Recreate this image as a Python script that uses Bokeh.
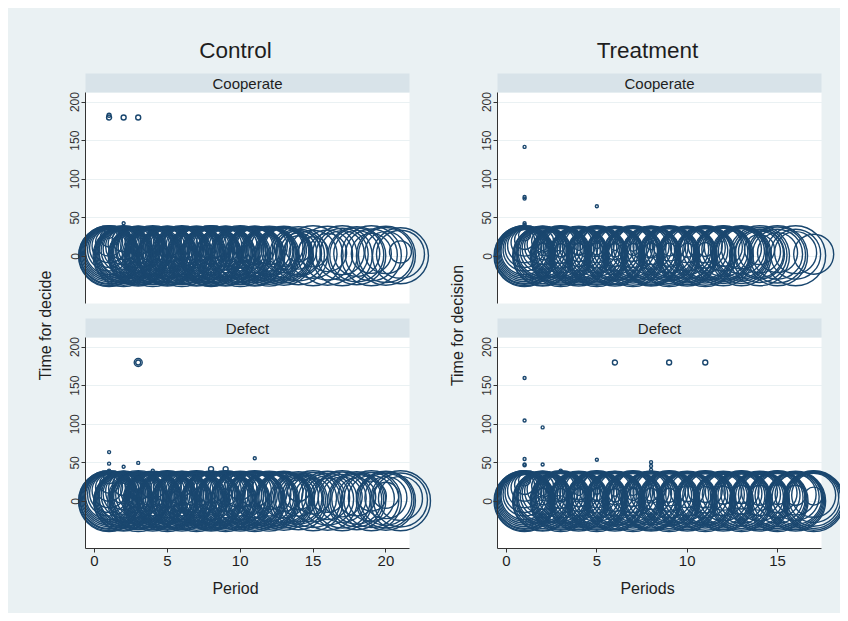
import math
from bokeh.plotting import figure
from bokeh.models import Range1d, LinearAxis, FixedTicker, BoxAnnotation, Grid, Label
from bokeh.layouts import row
from bokeh.embed import file_html
from bokeh.resources import INLINE

# ---------------- data (per period: decision times and marker sizes) -------------
Y_TICKS = [0, 50, 100, 150, 200]
CTRL_X_TICKS = [0, 5, 10, 15, 20]
TREAT_X_TICKS = [0, 5, 10, 15]

CTRL_COOP_TIME = [
    [0.5, 1, 1.5, 2, 3, 4, 5, 6, 7, 9, 11, 14, 18, 24, 30, 180, 183],
    [0.5, 1, 2, 2.5, 3, 4, 5, 6, 8, 10, 13, 16, 21, 43, 180],
    [0.5, 1, 1.5, 2, 3, 4, 5, 6, 8, 9, 11, 14, 19, 180],
    [0.5, 1, 2, 3, 4, 5, 6, 7, 9, 10, 12, 15, 20],
    [0.5, 1, 1.5, 2, 3, 4, 5, 6, 8, 9, 11, 14, 18],
    [0.5, 1, 2, 3, 4, 5, 6, 7, 9, 10, 12, 16],
    [0.5, 1, 2, 3, 4, 5, 6, 8, 9, 11, 13, 15],
    [0.5, 1, 1.5, 2, 3, 4, 5, 7, 8, 10, 13, 16],
    [0.5, 1, 2, 3, 4, 5, 6, 8, 10, 12, 15],
    [0.5, 1, 2, 3, 4, 5, 7, 9, 11, 14],
    [0.5, 1, 2, 3, 4, 5, 6, 8, 11, 13],
    [0.5, 1, 2, 3, 4, 6, 7, 9, 13],
    [1, 2, 3, 4, 5, 8, 10, 12],
    [1, 2, 4, 5, 7, 10],
    [1, 3, 6],
    [1, 2, 5],
    [1, 3, 5],
    [1, 2, 4],
    [1, 2, 4],
    [1, 2, 5],
    [1, 3, 6],
]
CTRL_COOP_SIZE = [
    [61, 60, 58, 57, 55, 53, 51, 49, 47, 43, 39, 34, 27, 18, 10, 5, 4],
    [61, 59, 57, 56, 54, 52, 50, 49, 45, 41, 36, 31, 23, 3, 5],
    [60, 59, 58, 56, 54, 52, 51, 49, 45, 43, 40, 35, 26, 5],
    [61, 58, 56, 55, 53, 51, 49, 47, 43, 41, 38, 33, 25],
    [60, 59, 58, 56, 55, 52, 51, 49, 45, 43, 40, 34, 28],
    [61, 58, 57, 54, 53, 51, 49, 47, 43, 41, 38, 31],
    [60, 59, 56, 54, 53, 51, 49, 46, 43, 39, 36, 33],
    [61, 60, 58, 56, 55, 53, 51, 47, 45, 41, 36, 30],
    [60, 59, 57, 54, 53, 51, 49, 45, 42, 38, 32],
    [61, 58, 56, 55, 52, 51, 47, 43, 40, 34],
    [60, 59, 56, 54, 53, 51, 49, 45, 40, 36],
    [60, 57, 55, 54, 52, 49, 47, 43, 36],
    [59, 56, 54, 52, 50, 45, 42, 38],
    [58, 52, 46, 44, 36, 26],
    [60, 48, 30],
    [59, 50, 38],
    [60, 52, 44],
    [58, 54, 46],
    [60, 52, 40],
    [59, 55, 42],
    [56, 48, 22],
]

CTRL_DEF_TIME = [
    [0.5, 1, 1.5, 2, 3, 4, 5, 6, 7, 9, 11, 14, 18, 23, 30, 40, 49, 64],
    [0.5, 1, 2, 2.5, 3, 4, 5, 6, 8, 10, 13, 17, 22, 30, 45],
    [0.5, 1, 1.5, 2, 3, 4, 5, 6, 8, 11, 14, 19, 25, 50, 180, 180],
    [0.5, 1, 2, 3, 4, 5, 6, 7, 9, 12, 15, 20, 40],
    [0.5, 1, 1.5, 2, 3, 4, 5, 6, 8, 11, 14, 18],
    [0.5, 1, 2, 3, 4, 5, 6, 7, 9, 12, 16, 21],
    [0.5, 1, 2, 3, 4, 5, 6, 8, 9, 11, 15],
    [0.5, 1, 1.5, 2, 3, 4, 5, 7, 10, 13, 17, 42],
    [0.5, 1, 2, 3, 4, 5, 6, 8, 12, 16, 42],
    [0.5, 1, 2, 3, 4, 5, 7, 9, 14, 19],
    [0.5, 1, 2, 3, 4, 5, 8, 11, 15, 56],
    [0.5, 1, 2, 3, 4, 6, 9, 13],
    [1, 2, 3, 4, 5, 8, 12],
    [1, 2, 3, 4, 7, 10, 14],
    [1, 2, 4, 7],
    [1, 3, 5, 8],
    [1, 2, 4, 6],
    [1, 2, 3, 6],
    [1, 2, 4, 7],
    [1, 2, 3, 5, 8],
    [1, 2, 4],
]
CTRL_DEF_SIZE = [
    [61, 60, 58, 57, 55, 53, 51, 49, 47, 43, 39, 34, 27, 19, 11, 3, 3, 3],
    [60, 59, 57, 56, 54, 52, 50, 49, 45, 41, 36, 30, 22, 10, 3],
    [61, 58, 57, 56, 54, 52, 51, 49, 45, 40, 35, 26, 16, 3, 8, 5],
    [60, 58, 56, 55, 53, 51, 49, 47, 43, 38, 33, 25, 3],
    [61, 59, 58, 56, 55, 52, 51, 49, 45, 40, 34, 28],
    [60, 58, 57, 54, 53, 51, 49, 47, 43, 38, 31, 22],
    [61, 59, 56, 54, 53, 51, 49, 45, 43, 39, 33],
    [60, 59, 58, 56, 54, 53, 51, 47, 41, 36, 29, 5],
    [61, 59, 57, 54, 53, 51, 49, 45, 38, 31, 5],
    [60, 58, 56, 55, 52, 51, 47, 43, 34, 26],
    [61, 59, 56, 54, 53, 51, 45, 40, 33, 3],
    [60, 57, 55, 54, 52, 49, 43, 36],
    [59, 56, 54, 52, 50, 45, 38],
    [58, 54, 50, 47, 40, 32, 22],
    [60, 55, 47, 36],
    [59, 52, 44, 34],
    [60, 56, 48, 40],
    [58, 54, 50, 38],
    [60, 55, 46, 30],
    [59, 56, 52, 42, 26],
    [60, 54, 44],
]

TREAT_COOP_TIME = [
    [0.5, 1, 1.5, 2, 3, 4, 5, 6, 7, 9, 11, 14, 18, 22, 28, 41, 43, 75, 77, 142],
    [0.5, 1, 2, 3, 4, 5, 6, 8, 10, 13, 16, 20, 9, 13],
    [0.5, 1, 1.5, 2, 3, 4, 5, 6, 8, 11, 14, 18, 8, 12],
    [0.5, 1, 2, 3, 4, 5, 7, 9, 12, 15, 19, 9, 13],
    [0.5, 1, 1.5, 2, 3, 4, 6, 8, 11, 14, 18, 65, 10, 15],
    [0.5, 1, 2, 3, 4, 5, 7, 9, 12, 16, 8, 13],
    [0.5, 1, 2, 3, 4, 5, 6, 9, 11, 15, 9, 12],
    [0.5, 1, 1.5, 2, 4, 5, 7, 10, 13, 17, 8, 14],
    [0.5, 1, 2, 3, 4, 5, 6, 8, 12, 15, 9],
    [0.5, 1, 2, 3, 4, 5, 7, 9, 14, 8],
    [0.5, 1, 2, 3, 4, 5, 8, 11, 14, 9],
    [1, 2, 3, 4, 5, 6, 9, 12],
    [1, 2, 3, 4, 5, 7, 10],
    [1, 2, 3, 4, 6, 9],
    [1, 2, 3, 5],
    [1, 3, 5],
    [3],
]
TREAT_COOP_SIZE = [
    [61, 60, 58, 57, 55, 53, 51, 49, 47, 43, 39, 34, 27, 20, 12, 3, 3, 3, 3, 3],
    [60, 59, 57, 54, 52, 51, 49, 45, 41, 36, 31, 22, 12, 8],
    [61, 59, 58, 56, 54, 52, 51, 49, 45, 40, 35, 28, 13, 8],
    [60, 58, 56, 55, 53, 51, 47, 43, 38, 33, 26, 12, 8],
    [61, 59, 58, 56, 55, 52, 49, 45, 40, 34, 28, 3, 12, 7],
    [60, 58, 57, 54, 53, 51, 47, 43, 38, 31, 13, 8],
    [61, 59, 56, 54, 53, 51, 49, 43, 39, 33, 12, 8],
    [60, 59, 58, 56, 53, 51, 47, 41, 36, 29, 14, 8],
    [61, 59, 57, 54, 53, 51, 49, 45, 38, 32, 13],
    [60, 58, 56, 55, 52, 51, 47, 43, 34, 14],
    [61, 59, 56, 54, 53, 51, 45, 40, 34, 14],
    [60, 57, 55, 54, 53, 49, 43, 38],
    [60, 57, 54, 52, 50, 46, 40],
    [60, 55, 50, 48, 42, 30],
    [60, 56, 50, 40],
    [60, 50, 42],
    [40],
]

TREAT_DEF_TIME = [
    [0.5, 1, 1.5, 2, 3, 4, 5, 6, 7, 9, 11, 14, 18, 22, 28, 47, 48, 55, 105, 160],
    [0.5, 1, 2, 3, 4, 5, 6, 8, 10, 13, 16, 20, 48, 96, 9, 13],
    [0.5, 1, 1.5, 2, 3, 4, 5, 6, 8, 11, 14, 18, 40, 9, 12],
    [0.5, 1, 2, 3, 4, 5, 7, 9, 12, 15, 19, 8, 13],
    [0.5, 1, 1.5, 2, 3, 4, 6, 8, 11, 14, 18, 54, 9, 14],
    [0.5, 1, 2, 3, 4, 5, 7, 9, 12, 16, 180, 8, 12],
    [0.5, 1, 2, 3, 4, 5, 6, 9, 11, 15, 9, 13],
    [0.5, 1, 1.5, 2, 4, 5, 7, 10, 13, 17, 41, 46, 51, 9],
    [0.5, 1, 2, 3, 4, 5, 6, 8, 12, 15, 180, 8],
    [0.5, 1, 2, 3, 4, 5, 7, 9, 14, 10],
    [0.5, 1, 2, 3, 4, 5, 8, 11, 14, 180, 9],
    [0.5, 1, 2, 3, 4, 6, 9, 12, 8],
    [0.5, 1, 2, 3, 5, 7, 10, 13, 9],
    [0.5, 1, 2, 3, 4, 6, 9, 12, 8],
    [0.5, 1, 2, 3, 5, 8, 11, 9],
    [0.5, 1, 2, 3, 4, 6, 9, 8],
    [0.5, 1, 2, 3, 5, 8, 7],
]
TREAT_DEF_SIZE = [
    [61, 60, 58, 57, 55, 53, 51, 49, 47, 43, 39, 34, 27, 20, 12, 3, 3, 3, 3, 3],
    [60, 59, 57, 54, 52, 51, 49, 45, 41, 36, 31, 22, 3, 3, 12, 8],
    [61, 59, 58, 56, 54, 52, 51, 49, 45, 40, 35, 28, 3, 12, 8],
    [60, 58, 56, 55, 53, 51, 47, 43, 38, 33, 26, 13, 8],
    [61, 59, 58, 56, 55, 52, 49, 45, 40, 34, 28, 3, 12, 7],
    [60, 58, 57, 54, 53, 51, 47, 43, 38, 31, 5, 13, 8],
    [61, 59, 56, 54, 53, 51, 49, 43, 39, 33, 12, 8],
    [60, 59, 58, 56, 53, 51, 47, 41, 36, 29, 3, 3, 3, 13],
    [61, 59, 57, 54, 53, 51, 49, 45, 38, 32, 5, 14],
    [60, 58, 56, 55, 52, 51, 47, 43, 34, 16],
    [61, 59, 56, 54, 53, 51, 45, 40, 34, 5, 16],
    [60, 58, 56, 54, 52, 48, 42, 36, 18],
    [61, 59, 57, 54, 51, 47, 41, 35, 18],
    [60, 58, 56, 54, 52, 48, 42, 36, 20],
    [61, 59, 57, 55, 51, 45, 39, 20],
    [60, 58, 56, 54, 52, 47, 41, 20],
    [61, 59, 57, 54, 50, 44, 18],
]

# ---------------- styling / layout constants -------------------------------------
FONT = "Liberation Sans"
BG = "#eaf1f3"
STRIP = "#d8e3e9"
GRID = "#eaf1f3"
NAVY = "#1a476f"
TXT = "#1e1e1e"
AXIS = "#333333"
H = 605
YS = 0.772          # px per y unit
Y0_TOP, Y0_BOT = 256, 501   # page y of 0 in each panel
PANEL_TOP_PX, PANEL_BOT_PX, STRIP_PX = 92, 303, 19


def flatten(times, sizes):
    xs, ys, ss = [], [], []
    for i, (tl, sl) in enumerate(zip(times, sizes)):
        for t, s in zip(tl, sl):
            xs.append(i + 1)
            ys.append(t)
            ss.append(s)
    return xs, ys, ss


def make_graph(title, ytitle, xtitle, page_left, width, x0px, xs_px,
               box_left_px, box_right_px, xticks, top_data, bot_data):
    def dx(px):
        return (px - x0px) / xs_px

    def dy(px, y0):
        return (y0 - px) / YS

    p = figure(width=width, height=H, output_backend="svg", toolbar_location=None,
               x_axis_type=None, y_axis_type=None, min_border=0,
               x_range=Range1d(dx(page_left), dx(page_left + width)),
               y_range=Range1d(dy(8 + H, Y0_BOT), dy(8, Y0_BOT)),
               background_fill_color=BG, border_fill_color=BG, outline_line_color=None)
    p.extra_y_ranges = {"top": Range1d(dy(8 + H, Y0_TOP), dy(8, Y0_TOP))}

    bl, br = dx(box_left_px), dx(box_right_px)
    ybot = -(PANEL_BOT_PX - Y0_TOP) / YS
    ytop = (Y0_TOP - PANEL_TOP_PX) / YS
    ystrip = (Y0_TOP - PANEL_TOP_PX + STRIP_PX) / YS

    panels = [("top", "Cooperate", top_data), ("default", "Defect", bot_data)]
    for rn, _, _ in panels:
        p.add_layout(BoxAnnotation(left=bl, right=br, bottom=ybot, top=ytop,
                                   fill_color="white", fill_alpha=1, line_color=None,
                                   level="underlay", y_range_name=rn))
        p.add_layout(BoxAnnotation(left=bl, right=br, bottom=ytop, top=ystrip,
                                   fill_color=STRIP, fill_alpha=1, line_color=None,
                                   level="underlay", y_range_name=rn))
    for rn, _, _ in panels:
        p.add_layout(Grid(dimension=1, ticker=FixedTicker(ticks=Y_TICKS),
                          grid_line_color=GRID, grid_line_width=1.2, y_range_name=rn))

    for rn, strip_text, (times, sizes) in panels:
        xs, ys, ss = flatten(times, sizes)
        p.scatter(x=xs, y=ys, size=ss, marker="circle", fill_color=None,
                  line_color=NAVY, line_width=1.4, y_range_name=rn)
        ax = LinearAxis(y_range_name=rn, fixed_location=bl, bounds=(ybot, ytop),
                        ticker=FixedTicker(ticks=Y_TICKS, minor_ticks=[]),
                        major_label_orientation="vertical",
                        major_label_text_font=FONT, major_label_text_font_size="12px",
                        major_label_text_color="#333333", major_label_standoff=2,
                        major_tick_out=4, major_tick_in=0, minor_tick_line_color=None,
                        axis_line_color=AXIS, major_tick_line_color=AXIS)
        p.add_layout(ax, "left")
        p.add_layout(Label(x=(bl + br) / 2, y=(ytop + ystrip) / 2, text=strip_text,
                           text_align="center", text_baseline="middle",
                           text_font=FONT, text_font_size="15px", text_color=TXT,
                           y_range_name=rn))

    xax = LinearAxis(fixed_location=ybot, bounds=(bl, br),
                     ticker=FixedTicker(ticks=xticks, minor_ticks=[]),
                     major_label_text_font=FONT, major_label_text_font_size="15px",
                     major_label_text_color=TXT, major_label_standoff=3,
                     major_tick_out=4, major_tick_in=0, minor_tick_line_color=None,
                     axis_line_color=AXIS, major_tick_line_color=AXIS)
    p.add_layout(xax, "below")

    cx = (title[1] - x0px) / xs_px
    p.add_layout(Label(x=cx, y=dy(50, Y0_TOP), text=title[0], text_align="center",
                       text_baseline="middle", text_font=FONT, text_font_size="22.5px",
                       text_color=TXT, y_range_name="top"))
    p.add_layout(Label(x=dx(ytitle[1]), y=dy(325, Y0_TOP), text=ytitle[0],
                       angle=math.pi / 2, text_align="center", text_baseline="middle",
                       text_font=FONT, text_font_size="16px", text_color=TXT,
                       y_range_name="top"))
    p.add_layout(Label(x=cx, y=dy(588, Y0_BOT), text=xtitle, text_align="center",
                       text_baseline="middle", text_font=FONT, text_font_size="16px",
                       text_color=TXT))
    return p


left = make_graph(("Control", 235), ("Time for decide", 45), "Period",
                  8, 432, 94, 14.57, 85, 409, CTRL_X_TICKS,
                  (CTRL_COOP_TIME, CTRL_COOP_SIZE), (CTRL_DEF_TIME, CTRL_DEF_SIZE))
right = make_graph(("Treatment", 647), ("Time for decision", 457), "Periods",
                   440, 400, 506, 18.07, 497, 821, TREAT_X_TICKS,
                   (TREAT_COOP_TIME, TREAT_COOP_SIZE), (TREAT_DEF_TIME, TREAT_DEF_SIZE))

layout = row(left, right, spacing=0, margin=(8, 8, 8, 8),
             styles={"background-color": BG})
open("out.html", "w").write(file_html(layout, INLINE))
